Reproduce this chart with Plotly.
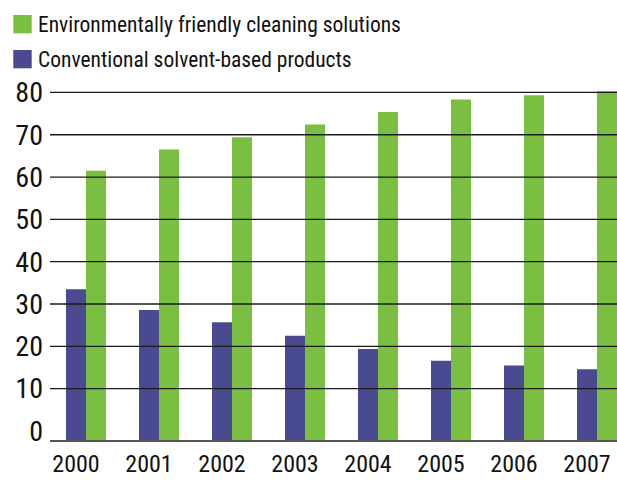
import plotly.graph_objects as go

YEARS = ["2000", "2001", "2002", "2003", "2004", "2005", "2006", "2007"]
GREEN_NAME = "Environmentally friendly cleaning solutions"
BLUE_NAME = "Conventional solvent-based products"
GREEN_VALUES = [61.5, 66.5, 69.4, 72.4, 75.4, 78.3, 79.3, 80.3]
BLUE_VALUES = [33.5, 28.6, 25.7, 22.5, 19.4, 16.6, 15.5, 14.6]
Y_TICKS = [0, 10, 20, 30, 40, 50, 60, 70, 80]

GREEN = "#7bbf42"
BLUE = "#4a4a90"
FONT = "Roboto Condensed, DejaVu Sans Condensed, sans-serif"

W, H = 617, 481
ML, MR, MT, MB = 50, 0, 90, 41
PW, PH = W - ML - MR, H - MT - MB
Y_MIN, Y_MAX = -2.13, 80.57
X_MIN = -36 / 73
X_MAX = X_MIN + PW / 73


def px_x(px):
    return (px - ML) / PW


def px_y(py):
    return (H - MB - py) / PH


fig = go.Figure()
fig.add_trace(go.Bar(
    name=BLUE_NAME, x=YEARS, y=[v - Y_MIN for v in BLUE_VALUES], base=Y_MIN,
    marker=dict(color=BLUE, line=dict(width=0)), showlegend=False,
))
fig.add_trace(go.Bar(
    name=GREEN_NAME, x=YEARS, y=[v - Y_MIN for v in GREEN_VALUES], base=Y_MIN,
    marker=dict(color=GREEN, line=dict(width=0)), showlegend=False,
))

shapes = []
for v in Y_TICKS:
    if v > 0:
        shapes.append(dict(type="line", xref="paper", yref="y", x0=0, x1=1, y0=v, y1=v,
                           line=dict(color="#1a1a1a", width=1.3), layer="above"))

# custom legend
legend_items = [(GREEN, GREEN_NAME, 15, 33.3), (BLUE, BLUE_NAME, 50, 68.3)]
annotations = []
for color, name, y0, y1 in legend_items:
    shapes.append(dict(type="rect", xref="paper", yref="paper",
                       x0=px_x(13.3), x1=px_x(31.7), y0=px_y(y1), y1=px_y(y0),
                       fillcolor=color, line=dict(width=0)))
    annotations.append(dict(xref="paper", yref="paper", x=px_x(36), y=px_y((y0 + y1) / 2 + 0.5),
                            xanchor="left", yanchor="middle", showarrow=False, text=name,
                            font=dict(family=FONT, size=21.5, color="#111111")))

fig.update_layout(
    width=W, height=H,
    margin=dict(l=ML, r=MR, t=MT, b=MB, pad=0),
    paper_bgcolor="white", plot_bgcolor="white",
    barmode="group", bargap=0.452, bargroupgap=0,
    shapes=shapes, annotations=annotations,
    font=dict(family=FONT, size=24, color="#111111"),
    xaxis=dict(type="category", range=[X_MIN, X_MAX], showgrid=False, zeroline=False,
               showline=True, linecolor="#555555", linewidth=1.5, ticks="",
               ticklabelshift=-10, ticklabelstandoff=1, automargin=False,
               tickfont=dict(family=FONT, size=24, color="#111111")),
    yaxis=dict(range=[Y_MIN, Y_MAX], tickvals=Y_TICKS, showgrid=False, zeroline=False,
               showline=False, ticks="", ticklabelstandoff=6, automargin=False,
               tickfont=dict(family=FONT, size=28, color="#111111")),
)

fig.write_html("out.html")
